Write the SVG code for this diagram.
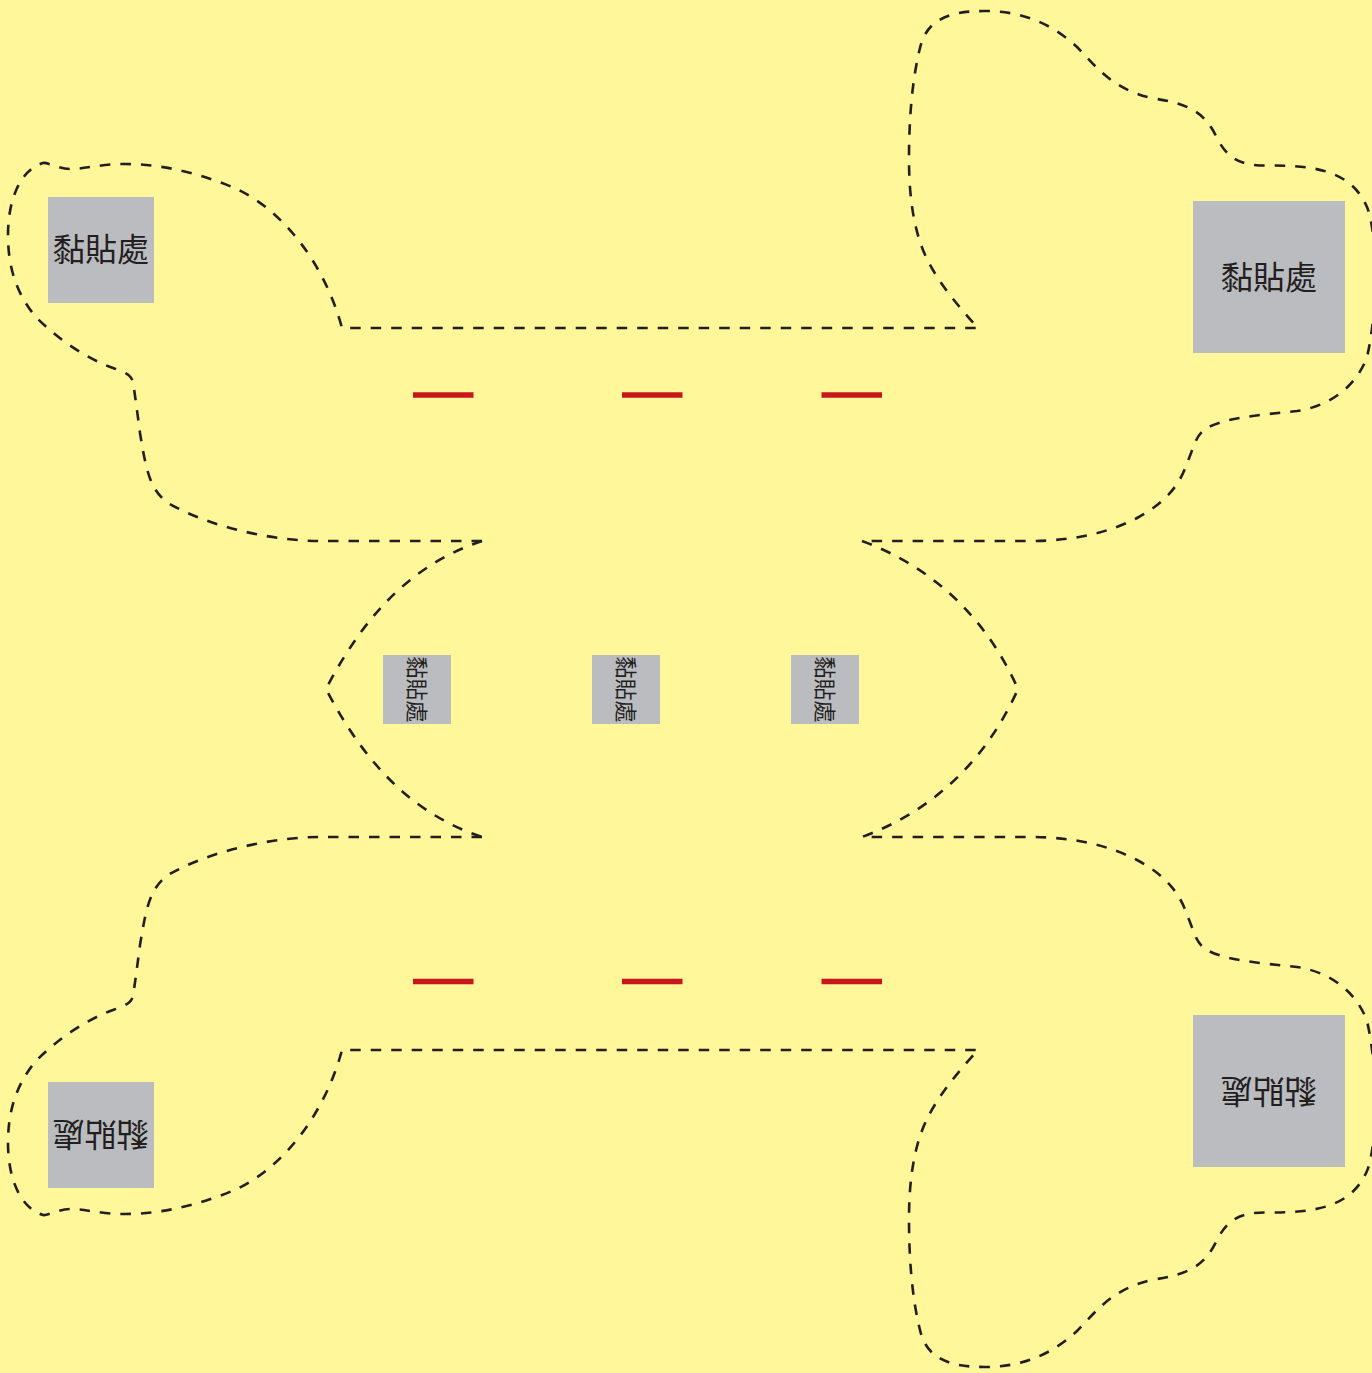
<svg xmlns="http://www.w3.org/2000/svg" width="1372" height="1373" viewBox="0 0 1372 1373">
<style>
.cut{fill:none;stroke:#231f20;stroke-width:2.6;stroke-dasharray:10.500 10}
.fold{fill:none;stroke:#c8161d;stroke-width:5.400}
.tab{fill:#bbbcc0}
.t{font-family:"Noto Sans CJK TC","Noto Sans CJK SC",sans-serif;fill:#231f20;text-anchor:middle}
.l{font-size:32px}
.s{font-size:22px}
</style>
<defs>
<path id="outline" class="cut" d="M482,541 H320 C280,541 215,530 168,503 C150,490 146,470 140,433 C137,410 135,395 133,382 C131,375 127,373 113,368 C85,358 55,337 35,316 C18,295 8,270 8,235 C8,200 20,170 43,163 C48,162 58,169 70,169 C85,169 100,164 125,164 C165,164 205,175 239,190 C285,213 325,265 342,328 H978 C960,308 935,280 923,250 C912,222 909,190 909,158 C909,120 912,80 920,48 C926,22 945,11 985,11 C1020,11 1050,22 1077,47 C1095,65 1110,88 1151,98 C1190,104 1205,112 1218,140 C1228,158 1240,165.500 1265,165.500 C1310,165.500 1350,168 1367,207 C1378,235 1378,310 1367,357 C1355,390 1325,407 1297,411 C1260,415 1220,418 1204,430 C1195,437 1193,450 1187,463 C1180,485 1165,503 1137,518 C1110,532 1075,541 1030,541 H862"/>
</defs>
<rect width="1372" height="1373" fill="#fff799"/>
<g id="connectors">
<use id="outline-top" href="#outline"/>
<use id="outline-bottom" href="#outline" transform="matrix(1 0 0 -1 0 1378)"/>
<path id="arc-left" class="cut" d="M482,541 C425,560 372,600 326,689 C372,778 425,818 482,837"/>
<path id="arc-right" class="cut" d="M862,541 C930,566 985,615 1018,689 C985,763 930,812 862,837"/>
<path class="fold" d="M413,395 H473.500 M622,395 H682.500 M821.500,395 H882 M413,981.500 H473.500 M622,981.500 H682.500 M821.500,981.500 H882"/>
</g>
<g id="tab-top-left"><rect class="tab" x="48" y="197" width="106" height="106"/><text class="t l" x="101" y="261">黏貼處</text></g>
<g id="tab-top-right"><rect class="tab" x="1193" y="201" width="152" height="152"/><text class="t l" x="1269" y="289">黏貼處</text></g>
<g id="tab-mid-1"><rect class="tab" x="383" y="655" width="68" height="69"/><text class="t s" transform="translate(409,689.500) rotate(90)">黏貼處</text></g>
<g id="tab-mid-2"><rect class="tab" x="592" y="655" width="68" height="69"/><text class="t s" transform="translate(618,689.500) rotate(90)">黏貼處</text></g>
<g id="tab-mid-3"><rect class="tab" x="791" y="655" width="68" height="69"/><text class="t s" transform="translate(817,689.500) rotate(90)">黏貼處</text></g>
<g id="tab-bottom-left"><rect class="tab" x="48" y="1082" width="106" height="106"/><text class="t l" transform="translate(100.500,1123) rotate(180)">黏貼處</text></g>
<g id="tab-bottom-right"><rect class="tab" x="1193" y="1015" width="152" height="152"/><text class="t l" transform="translate(1268.500,1079.500) rotate(180)">黏貼處</text></g>
</svg>
